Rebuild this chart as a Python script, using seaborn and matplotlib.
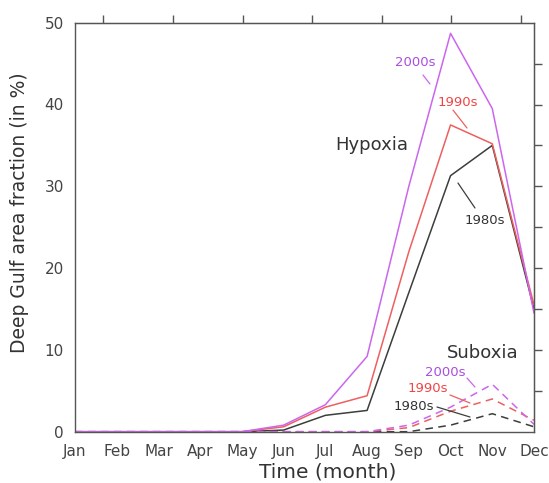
import numpy as np
import pandas as pd
import matplotlib
matplotlib.use("Agg")
import matplotlib.pyplot as plt
import seaborn as sns

months = ["Jan", "Feb", "Mar", "Apr", "May", "Jun", "Jul", "Aug", "Sep", "Oct", "Nov", "Dec"]
decades = ["1980s", "1990s", "2000s"]

hyp_1980s = [0, 0, 0, 0, 0, 0.2, 2.0, 2.6, 17.0, 31.3, 35.0, 15.0]
hyp_1990s = [0, 0, 0, 0, 0, 0.6, 3.0, 4.4, 22.0, 37.5, 35.2, 15.5]
hyp_2000s = [0, 0, 0, 0, 0, 0.8, 3.3, 9.2, 30.0, 48.7, 39.5, 14.5]

sub_1980s = [0, 0, 0, 0, 0, 0, 0, 0, 0.0, 0.8, 2.2, 0.6]
sub_1990s = [0, 0, 0, 0, 0, 0, 0, 0, 0.5, 2.5, 4.0, 1.4]
sub_2000s = [0, 0, 0, 0, 0, 0, 0, 0, 0.8, 3.0, 5.8, 0.9]

line_colors = {"1980s": "#3a3f3a", "1990s": "#ee5f5f", "2000s": "#cc66ee"}
label_colors = {"1980s": "#333333", "1990s": "#f04545", "2000s": "#a94ee0"}

rows = []
for dec, h, s in [("1980s", hyp_1980s, sub_1980s), ("1990s", hyp_1990s, sub_1990s),
                  ("2000s", hyp_2000s, sub_2000s)]:
    for i, m in enumerate(months):
        rows.append({"month": i, "value": h[i], "decade": dec, "kind": "Hypoxia"})
        rows.append({"month": i, "value": s[i], "decade": dec, "kind": "Suboxia"})
df = pd.DataFrame(rows)

sns.set_style("white")
plt.rcParams["font.family"] = ["DejaVu Sans"]

fig = plt.figure(figsize=(5.49, 4.83), dpi=100)
ax = fig.add_axes([75 / 549, 1 - 431.7 / 483, (534 - 75) / 549, (431.7 - 22.7) / 483])

sns.lineplot(data=df, x="month", y="value", hue="decade", style="kind",
             palette=line_colors, dashes={"Hypoxia": "", "Suboxia": (5, 3.5)},
             linewidth=1.1, legend=False, ax=ax, estimator=None)

ax.set_xlim(0, 11)
ax.set_ylim(0, 50)
ax.set_xticks(range(12))
ax.set_xticklabels(months)
ax.set_yticks([0, 10, 20, 30, 40, 50])
ax.set_yticks([5, 15, 25, 35, 45], minor=True)

axis_col = "#555555"
for sp in ax.spines.values():
    sp.set_color(axis_col)
    sp.set_linewidth(1.0)
    sp.set_visible(True)

ax.tick_params(axis="both", which="both", direction="out", length=6, width=1.0,
               color=axis_col, labelcolor="#444444", labelsize=11)
ax.tick_params(axis="x", pad=3)
ax.tick_params(axis="y", pad=2)

top = ax.secondary_xaxis("top")
top.set_xticks([0.68, 2.35, 4.03, 5.67, 7.35, 9.0, 10.7])
top.set_xticklabels([])
top.tick_params(direction="out", length=6, width=1.0, color=axis_col)
top.spines["top"].set_color(axis_col)

right = ax.secondary_yaxis("right")
right.set_yticks([5, 10, 15, 20, 25, 30, 35, 40, 45])
right.set_yticklabels([])
right.tick_params(direction="out", length=6, width=1.0, color=axis_col)
right.spines["right"].set_color(axis_col)

ax.set_xlabel("Time (month)", fontsize=14.5, color="#333333")
ax.set_ylabel("Deep Gulf area fraction (in %)", fontsize=13.5, color="#333333")
ax.xaxis.set_label_coords((328 - 75) / 459, -0.075)
ax.yaxis.set_label_coords(-0.10, (431.7 - 213) / 409)


def px(x, y):
    return ((x - 75) / 41.73, (431.7 - y) / 8.18)


ax.text(*px(372, 145), "Hypoxia", fontsize=13, color="#333333", ha="center", va="center")
ax.text(*px(483, 353), "Suboxia", fontsize=13, color="#333333", ha="center", va="center")

labels = [
    ("2000s", (415, 63), (423, 75), (430, 84)),
    ("1990s", (458, 102), (453, 110), (467, 128)),
    ("1980s", (485, 220), (458, 183), (475, 208)),
    ("2000s", (445, 373), (467, 378), (475, 387)),
    ("1990s", (428, 389), (450, 395), (470, 403)),
    ("1980s", (414, 406), (437, 407), (470, 417)),
]
for txt, pos, a, b in labels:
    ax.text(*px(*pos), txt, fontsize=9.5, color=label_colors[txt], ha="center", va="center")
    ax.annotate("", xy=px(*b), xytext=px(*a),
                arrowprops=dict(arrowstyle="-", color=line_colors[txt], lw=0.9,
                                shrinkA=0, shrinkB=0))

fig.savefig("out.png", dpi=100)
